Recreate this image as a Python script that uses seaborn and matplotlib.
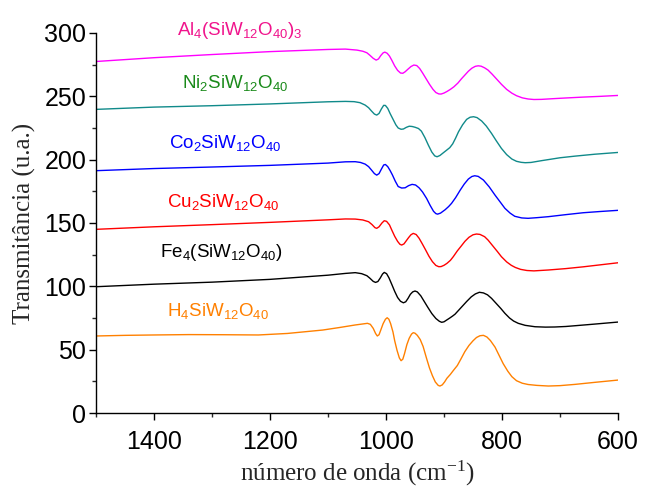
import matplotlib
matplotlib.use("Agg")
import matplotlib.pyplot as plt
from matplotlib.ticker import MultipleLocator
import seaborn as sns
import pandas as pd

# ---- data (wavenumber cm-1, transmittance u.a.) ----
al_wn = [1500, 1400, 1300, 1200, 1100, 1070, 1050, 1040, 1033, 1028, 1022, 1017, 1013, 1009, 1005, 1002,
         998, 994, 990, 985, 980, 975, 971, 967, 962, 957, 952, 947, 942, 937, 931, 925, 919, 914, 909,
         905, 900, 895, 889, 883, 876, 870, 864, 858, 852, 846, 841, 836, 830, 824, 817, 810, 801, 792,
         783, 775, 765, 755, 745, 732, 710, 690, 660, 630, 600]
al_t = [277.5, 280.5, 283, 285.3, 287, 287.3, 286.5, 285.6, 284.4, 282.5, 280, 278.6, 279.5, 282.2, 284.3,
        284.9, 284, 281.8, 278.5, 274, 270.5, 268.4, 268.2, 269.4, 271.5, 273.5, 274.7, 274.3, 272, 268.5,
        264, 259.5, 255.5, 253, 251.9, 251.8, 252.6, 253.8, 255.5, 257.5, 260.5, 263.8, 266.8, 269.8,
        272.2, 273.7, 274.1, 273.8, 272.5, 270.7, 267.5, 264, 259.5, 255.5, 252.5, 250.5, 248.8, 247.9,
        247.5, 247.6, 248.2, 248.7, 249.4, 250, 250.7]

ni_wn = [1500, 1400, 1300, 1200, 1100, 1070, 1055, 1045, 1036, 1030, 1025, 1020, 1016, 1012, 1008, 1004,
         1001, 997, 993, 988, 983, 979, 974, 970, 965, 960, 955, 950, 944, 939, 933, 927, 921, 916, 912,
         907, 901, 896, 890, 885, 880, 875, 868, 861, 855, 849, 843, 835, 827, 818, 810, 801, 792, 783,
         775, 767, 760, 750, 732, 700, 674, 640, 600]
ni_t = [239.7, 241.5, 242.6, 244, 245.7, 246, 245.8, 245, 243.1, 241, 238.4, 236, 235.2, 236.5, 240,
        242.9, 242.8, 240.5, 236.5, 232, 227.5, 225, 224, 224.2, 225.5, 226.4, 226.2, 225.6, 224.6, 222.5,
        217.5, 211.5, 206, 203, 202.3, 203.3, 205.5, 207.3, 209.5, 212.5, 217, 222, 227.5, 231.8, 233.5,
        233.9, 233.2, 230.5, 226.5, 220.7, 215, 208.9, 204, 200.5, 198.7, 197.9, 197.6, 197.8, 199.2,
        201.5, 202.8, 204.3, 205.7]

co_wn = [1500, 1400, 1300, 1200, 1100, 1070, 1053, 1044, 1036, 1030, 1025, 1020, 1016, 1012, 1008, 1004,
         1001, 997, 993, 989, 984, 979, 973, 967, 961, 955, 949, 943, 937, 930, 924, 918, 914, 911, 906,
         898, 892, 887, 880, 872, 865, 858, 852, 847, 841, 832, 822, 812, 803, 795, 786, 778, 766, 755,
         740, 720, 690, 660, 630, 600]
co_t = [191.3, 193, 194.2, 195.5, 197.3, 198.3, 198.4, 197.8, 196.5, 194.5, 191.8, 189, 187.8, 189, 192.5,
        195.8, 196.2, 194.5, 191.5, 188, 183, 178.8, 177.6, 177.8, 179.5, 180.5, 180, 177.8, 174.5, 169.4,
        164, 159.2, 157.4, 157, 157.8, 160.5, 163, 165.5, 170, 176, 180.8, 184.7, 186.7, 187.3, 186.8,
        183.9, 178.5, 172, 166.5, 161.6, 157.8, 155.3, 154, 153.7, 154.2, 155, 156.6, 158.1, 159.1, 160]

cu_wn = [1500, 1400, 1300, 1200, 1100, 1070, 1053, 1040, 1030, 1024, 1019, 1016, 1012, 1007, 1003, 999,
         994, 990, 985, 980, 976, 973, 969, 965, 961, 957, 953, 948, 943, 938, 932, 926, 920, 914, 909,
         905, 900, 895, 889, 884, 877, 870, 864, 857, 850, 844, 838, 830, 824, 816, 808, 801, 792, 784,
         777, 768, 757, 745, 720, 690, 660, 630, 600]
cu_t = [145, 147, 148.7, 150.5, 152.5, 153.2, 153.1, 152.4, 151, 148.7, 146.3, 145.8, 147, 150, 151.8,
        151.3, 148.5, 144.4, 139.5, 135.5, 133.2, 132.6, 133.5, 136, 138.5, 140.7, 141.8, 140.9, 138, 134,
        129, 123.8, 119.5, 116.5, 115.5, 115.6, 116.6, 118.1, 120.5, 123.4, 128, 132, 135.5, 138.7, 140.7,
        141.3, 141, 139.2, 136.5, 132, 127.5, 123.4, 119.3, 116.6, 114.9, 113.4, 112.5, 112.2, 112.9, 114,
        115.4, 117, 118.6]

fe_wn = [1500, 1400, 1300, 1200, 1100, 1070, 1053, 1042, 1033, 1028, 1022, 1018, 1014, 1010, 1006, 1003,
         999, 995, 990, 985, 980, 975, 970, 966, 962, 958, 954, 950, 946, 940, 934, 928, 921, 914, 908,
         904, 900, 895, 890, 885, 881, 874, 867, 861, 853, 846, 839, 832, 825, 818, 810, 802, 795, 787,
         780, 772, 760, 743, 725, 709, 690, 674, 640, 600]
fe_t = [99.7, 101.7, 103.3, 105.5, 108.8, 110.2, 110.8, 110, 108.4, 106.5, 103.9, 103.1, 103.8, 106.5, 109.7,
        111, 110, 106.8, 101.5, 96, 91.2, 88.2, 87, 87.8, 90.5, 93.7, 95.6, 96.3, 95.6, 92.5, 88, 83.5,
        78.5, 74.6, 72.4, 71.6, 72, 73.5, 75, 76.6, 78, 81.5, 85, 88, 91.7, 94, 95.3, 94.8, 93.3, 90.5,
        86.5, 82.5, 78.7, 75, 72.6, 70.8, 69.2, 68.1, 67.8, 67.9, 68.3, 68.9, 70.2, 71.8]

h_wn = [1500, 1450, 1400, 1340, 1281, 1220, 1170, 1109, 1080, 1053, 1040, 1032, 1027, 1022, 1018, 1015,
        1012, 1009, 1005, 1001, 998, 995, 992, 988, 985, 981, 977, 974, 971, 968, 964, 960, 956, 953,
        950, 946, 941, 936, 930, 925, 920, 915, 910, 907, 903, 899, 895, 889, 884, 877, 871, 864, 857,
        850, 844, 838, 832, 826, 820, 812, 805, 798, 790, 783, 775, 765, 755, 740, 720, 700, 674, 640, 600]
h_t = [60.8, 61.3, 61.6, 61.9, 61.8, 61.6, 62.8, 65.5, 67.5, 69.5, 70.3, 70.8, 70, 66.8, 62.8, 60.8, 61.8,
       65.5, 70.5, 74, 75.2, 74, 70.5, 64, 57, 49.5, 43.5, 41.3, 42.5, 47, 54, 59, 62.3, 63.4, 63, 61.3,
       58, 52.5, 43, 35.5, 29.5, 24.5, 21.8, 21.3, 22.2, 24.5, 27.4, 30.5, 33.5, 37.5, 42.5, 48.5, 53.3,
       57, 59.6, 61, 61.3, 60, 57.2, 52, 45.5, 39, 33, 28.7, 25.5, 23.5, 22.5, 21.8, 21.3, 21.6, 22.6,
       24.2, 26]

samples = ["Al", "Ni", "Co", "Cu", "Fe", "H"]
labels = [r"Al$_4$(SiW$_{12}$O$_{40}$)$_3$", r"Ni$_2$SiW$_{12}$O$_{40}$", r"Co$_2$SiW$_{12}$O$_{40}$",
          r"Cu$_2$SiW$_{12}$O$_{40}$", r"Fe$_4$(SiW$_{12}$O$_{40}$)", r"H$_4$SiW$_{12}$O$_{40}$"]
line_colors = ["#FF00FF", "#108A8A", "#0000FF", "#FF0000", "#000000", "#FF8000"]
label_colors = ["#F0148C", "#1A8A1A", "#0000FF", "#FF0000", "#000000", "#FF8000"]
label_x = [1360, 1352, 1374, 1378, 1390, 1378]
label_y = [298.3, 256.3, 208.9, 162.8, 122.9, 76.6]

x_ticks = [1400, 1200, 1000, 800, 600]
y_ticks = [0, 50, 100, 150, 200, 250, 300]

# ---- build table ----
series = [(al_wn, al_t), (ni_wn, ni_t), (co_wn, co_t), (cu_wn, cu_t), (fe_wn, fe_t), (h_wn, h_t)]
rows = []
for name, (wn, t) in zip(samples, series):
    for a, b in zip(wn, t):
        rows.append({"wn": a, "T": b, "sample": name})
df = pd.DataFrame(rows)

sns.set_style("ticks")
plt.rcParams["font.family"] = ["Liberation Sans", "DejaVu Sans"]
plt.rcParams["mathtext.fontset"] = "custom"
plt.rcParams["mathtext.rm"] = "Liberation Sans"
plt.rcParams["mathtext.default"] = "regular"

fig = plt.figure(figsize=(6.45, 4.9), dpi=100)
ax = fig.add_axes([96 / 645, 1 - 413 / 490, (618 - 96) / 645, (413 - 33) / 490])

sns.lineplot(data=df, x="wn", y="T", hue="sample", hue_order=samples,
             palette=dict(zip(samples, line_colors)), estimator=None, sort=True,
             legend=False, linewidth=1.0, ax=ax)

for lab, c, lx, ly in zip(labels, label_colors, label_x, label_y):
    ax.text(lx, ly, lab, color=c, fontsize=13.5, ha="left", va="baseline",
            family="Liberation Sans", clip_on=False)

ax.set_xlim(1500, 600)
ax.set_ylim(0, 300)
ax.set_xticks(x_ticks)
ax.set_yticks(y_ticks)
ax.xaxis.set_minor_locator(MultipleLocator(100))
ax.yaxis.set_minor_locator(MultipleLocator(25))
ax.tick_params(axis="both", which="major", direction="out", length=5, width=1.0,
               labelsize=18, colors="black")
ax.tick_params(axis="x", which="major", pad=7)
ax.tick_params(axis="y", which="major", pad=2)
ax.tick_params(axis="both", which="minor", direction="out", length=3, width=1.0)
for lbl in ax.get_xticklabels() + ax.get_yticklabels():
    lbl.set_family("Liberation Sans")

sns.despine(ax=ax)
for s in ["left", "bottom"]:
    ax.spines[s].set_linewidth(1.0)
    ax.spines[s].set_color("black")

ax.set_xlabel(r"número de onda (cm$^{-1}$)", family="Liberation Serif", fontsize=18, labelpad=4)
ax.set_ylabel("Transmitância (u.a.)", family="Liberation Serif", fontsize=18, labelpad=6)

fig.savefig("out.png", dpi=100, facecolor="white")
